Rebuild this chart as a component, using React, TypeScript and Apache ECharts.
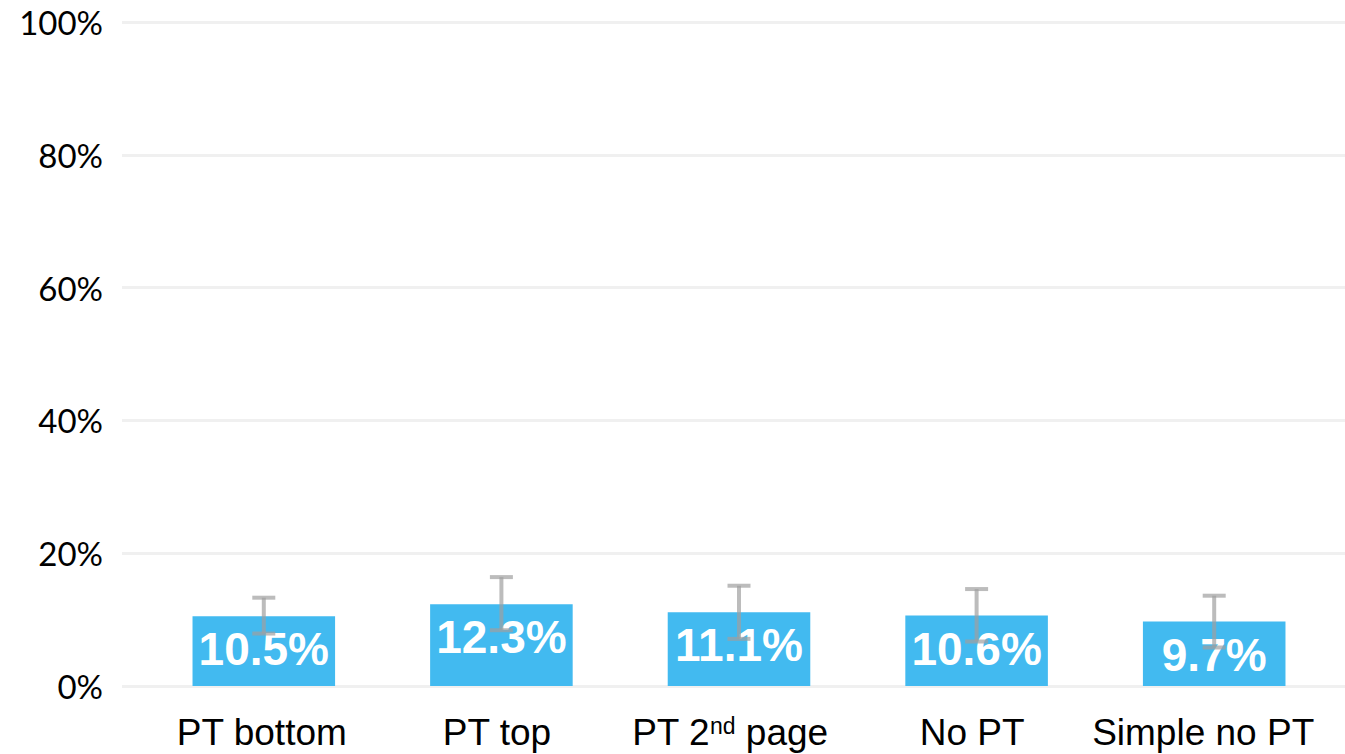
import React, { useEffect, useRef } from "react";
import * as echarts from "echarts";

const categories = ["PT bottom", "PT top", "PT 2nd page", "No PT", "Simple no PT"];
const values = [10.5, 12.3, 11.1, 10.6, 9.7];
const lowErr = [7.9, 8.4, 7.1, 6.7, 5.8];
const highErr = [13.3, 16.4, 15.1, 14.6, 13.6];
const yTicks = [0, 20, 40, 60, 80, 100];

export default function App() {
  const ref = useRef<HTMLDivElement>(null);
  useEffect(() => {
    if (!ref.current) return;
    const chart = echarts.init(ref.current, null, { renderer: "svg" });
    const errData = categories.map((_, i) => [i, lowErr[i], highErr[i]]);
    const shiftKey = ["a0", "a1", "a2", "a1", "a3"];
    const base = { fontFamily: "Liberation Sans, Arial", fontSize: 37, color: "#000" };
    chart.setOption({
      animation: false,
      backgroundColor: "#ffffff",
      grid: [
        { left: 122, right: 0, top: 22, bottom: 68 },
        { left: 145, right: 12, top: 22, bottom: 68 },
      ],
      xAxis: [
        { gridIndex: 0, type: "value", show: false, min: 0, max: 1 },
        {
          gridIndex: 1,
          type: "category",
          data: categories,
          axisLine: { show: false },
          axisTick: { show: false },
          axisLabel: {
            interval: 0,
            margin: 28,
            color: "#000",
            fontFamily: "Liberation Sans, Arial",
            fontSize: 37,
            formatter: (v: string, i: number) => {
              const k = shiftKey[i];
              if (v === "PT 2nd page") return "{b|PT 2}{s|nd}{" + k + "| page}";
              return "{" + k + "|" + v + "}";
            },
            rich: {
              a0: { ...base, padding: [0, 4, 0, 0] },
              a1: { ...base, padding: [0, 9, 0, 0] },
              a2: { ...base, padding: [0, 18, 0, 0] },
              a3: { ...base, padding: [0, 22, 0, 0] },
              b: { ...base },
              s: { fontFamily: "Liberation Sans, Arial", fontSize: 23, color: "#000", verticalAlign: "top", padding: [0, 0, 14, 0] },
            },
          },
        },
      ],
      yAxis: [
        {
          gridIndex: 0,
          type: "value",
          min: yTicks[0],
          max: yTicks[yTicks.length - 1],
          interval: 20,
          axisLine: { show: false },
          axisTick: { show: false },
          axisLabel: {
            margin: 19,
            color: "#000",
            fontFamily: "Lato",
            fontSize: 33,
            formatter: (v: number) => v + "%",
          },
          splitLine: { lineStyle: { color: "#f0f0f0", width: 3 } },
        },
        { gridIndex: 1, type: "value", min: 0, max: 100, show: false, splitLine: { show: false } },
      ],
      series: [
        {
          type: "bar",
          xAxisIndex: 1,
          yAxisIndex: 1,
          data: values,
          barWidth: "60%",
          itemStyle: { color: "#42BAF0" },
          label: {
            show: true,
            position: "insideTop",
            distance: 10,
            color: "#fff",
            fontFamily: "Liberation Sans, Arial",
            fontWeight: "bold",
            fontSize: 46,
            formatter: (p: any) => p.value.toFixed(1) + "%",
          },
          z: 2,
        },
        {
          type: "custom",
          xAxisIndex: 1,
          yAxisIndex: 1,
          data: errData,
          z: 10,
          renderItem: (params: any, api: any) => {
            const x = api.value(0);
            const lo = api.coord([x, api.value(1)]);
            const hi = api.coord([x, api.value(2)]);
            const hw = 11.5;
            const style = { stroke: "rgba(160,160,160,0.7)", lineWidth: 4 };
            return {
              type: "group",
              children: [
                { type: "line", shape: { x1: hi[0], y1: hi[1], x2: lo[0], y2: lo[1] }, style },
                { type: "line", shape: { x1: hi[0] - hw, y1: hi[1], x2: hi[0] + hw, y2: hi[1] }, style },
                { type: "line", shape: { x1: lo[0] - hw, y1: lo[1], x2: lo[0] + hw, y2: lo[1] }, style },
              ],
            };
          },
        },
      ],
    });
    return () => chart.dispose();
  }, []);
  return <div ref={ref} style={{ position: "absolute", left: 0, top: 0, width: 1345, height: 754 }} />;
}
